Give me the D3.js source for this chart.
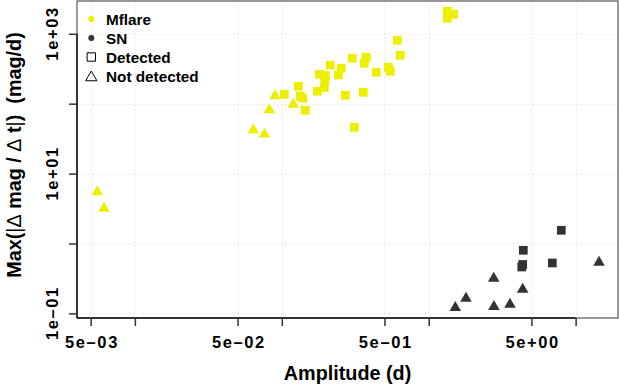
<!DOCTYPE html>
<html><head><meta charset="utf-8">
<script src="https://cdn.jsdelivr.net/npm/d3@7"></script>
<style>
body{margin:0;background:#fff}
svg{display:block}
text{font-family:"Liberation Sans",Arial,Helvetica,sans-serif;font-weight:bold;fill:#000}
</style>
</head><body>
<svg id="chart" width="619" height="392"></svg>
<script>
// ---- data ----
const mflareDetectedAmp  = [0.1040,0.1295,0.1336,0.1388,0.1445,0.1744,0.1806,0.1977,0.1968,0.1947,0.2136,0.2425,0.2537,0.2706,0.3015,0.3114,0.3587,0.3644,0.3760,0.4391,0.5309,0.5477,0.6112,0.6406,1.339,1.339,1.482];
const mflareDetectedRate = [136.3,177.4,128.9,119.4,80.4,151.0,263.4,253.2,211.3,170.5,355.5,257.4,320.9,131.9,446.2,45.96,145.6,378.4,462.6,281.4,332.8,290.7,807.3,492.5,2098,1666,1901];
const mflareNotDetAmp    = [0.00555,0.00616,0.0640,0.0762,0.0822,0.0899,0.1198];
const mflareNotDetRate   = [5.45,3.18,42.0,36.6,81.3,128.9,97.7];
const snDetectedAmp      = [7.99,4.405,4.36,4.30,6.94];
const snDetectedRate     = [1.545,0.799,0.501,0.461,0.526];
const snNotDetAmp        = [14.43,2.77,4.36,1.794,1.517,2.78,3.575];
const snNotDetRate       = [0.537,0.317,0.2205,0.164,0.1207,0.1247,0.1345];

const xTicks = [0.005,0.01,0.05,0.1,0.5,1,5,10];
const xTickLabels = ["5e\u201303","","5e\u201302","","5e\u201301","","5e+00",""];
const yTicks = [0.1,1,10,100,1000];
const yTickLabels = ["1e\u201301","","1e+01","","1e+03"];
const legendLabels = ["Mflare","SN","Detected","Not detected"];
const xTitle = "Amplitude (d)";

const colMflare = "#EEEE00", colSN = "#333333";

// ---- layout ----
const L = 77, R = 618, T = 1, B = 318;
const svg = d3.select("#chart");
const x = d3.scaleLog().domain([0.004036, 19.43]).range([L, R]);
const y = d3.scaleLog().domain([0.0859, 2944]).range([B, T]);

// grid
const grid = svg.append("g").attr("stroke","#d9d9d9").attr("stroke-width",1).attr("stroke-dasharray","1,3");
grid.selectAll(".gx").data(xTicks).join("line")
  .attr("x1",d=>Math.round(x(d))+0.5).attr("x2",d=>Math.round(x(d))+0.5).attr("y1",T).attr("y2",B);
grid.selectAll(".gy").data(yTicks).join("line")
  .attr("y1",d=>Math.round(y(d))+0.5).attr("y2",d=>Math.round(y(d))+0.5).attr("x1",L).attr("x2",R);

// box
svg.append("rect").attr("x",L).attr("y",T).attr("width",R-L).attr("height",B-T)
  .attr("fill","none").attr("stroke","#555").attr("stroke-width",1.2);

// axes
const xAxis = svg.append("g").attr("transform",`translate(0,${B})`)
  .call(d3.axisBottom(x).tickValues(xTicks).tickSize(8).tickSizeOuter(0).tickFormat((d,i)=>xTickLabels[i]));
const yAxis = svg.append("g").attr("transform",`translate(${L},0)`)
  .call(d3.axisLeft(y).tickValues(yTicks).tickSize(8).tickSizeOuter(0).tickFormat((d,i)=>yTickLabels[i]));
[xAxis,yAxis].forEach(a=>{
  a.select(".domain").remove();
  a.selectAll(".tick line").attr("stroke","#333").attr("stroke-width",1.5);
  a.selectAll(".tick text").attr("fill","#000").style("font-size","16.5px").style("letter-spacing","1.6px")
   .style("font-family","'Liberation Sans',Arial,sans-serif").style("font-weight","bold");
});
xAxis.selectAll(".tick text").attr("y",30).attr("dy",null).attr("dx","0.8");
yAxis.selectAll(".tick text").attr("transform","rotate(-90)").attr("x",0.8).attr("y",-19.5).attr("dy",null)
  .attr("text-anchor","middle");
// axis lines (from first to last tick)
svg.append("line").attr("x1",x(xTicks[0])).attr("x2",x(xTicks[xTicks.length-1])).attr("y1",B).attr("y2",B)
  .attr("stroke","#333").attr("stroke-width",2);
svg.append("line").attr("y1",y(yTicks[0])).attr("y2",y(yTicks[yTicks.length-1])).attr("x1",L).attr("x2",L)
  .attr("stroke","#333").attr("stroke-width",2);
svg.append("line").attr("x1",L).attr("x2",x(xTicks[0])).attr("y1",B).attr("y2",B).attr("stroke","#333").attr("stroke-width",2);
svg.append("line").attr("x1",L).attr("x2",L).attr("y1",B).attr("y2",y(yTicks[0])).attr("stroke","#333").attr("stroke-width",2);

// points
const sq = d3.symbol().type(d3.symbolSquare).size(76);
const tri = d3.symbol().type(d3.symbolTriangle).size(58);
function draw(ampArr, rateArr, sym, col){
  svg.append("g").selectAll("path").data(ampArr.map((a,i)=>[a,rateArr[i]])).join("path")
    .attr("d",sym).attr("fill",col)
    .attr("transform",d=>`translate(${x(d[0])},${y(d[1])})`);
}
draw(mflareNotDetAmp, mflareNotDetRate, tri, colMflare);
draw(mflareDetectedAmp, mflareDetectedRate, sq, colMflare);
draw(snNotDetAmp, snNotDetRate, tri, colSN);
draw(snDetectedAmp, snDetectedRate, sq, colSN);

// legend
const lg = svg.append("g");
const lx = 91.3, ly0 = 19, ldy = 19;
lg.append("circle").attr("cx",lx).attr("cy",ly0).attr("r",3).attr("fill",colMflare);
lg.append("circle").attr("cx",lx).attr("cy",ly0+ldy).attr("r",3).attr("fill",colSN);
lg.append("path").attr("d",d3.symbol().type(d3.symbolSquare).size(70)())
  .attr("transform",`translate(${lx},${ly0+2*ldy})`).attr("fill","none").attr("stroke","#000").attr("stroke-width",1);
lg.append("path").attr("d",d3.symbol().type(d3.symbolTriangle).size(55)())
  .attr("transform",`translate(${lx},${ly0+3*ldy+1.5})`).attr("fill","none").attr("stroke","#000").attr("stroke-width",1);
lg.selectAll("text").data(legendLabels).join("text")
  .attr("x",106).attr("y",(d,i)=>ly0+i*ldy+6).style("font-size","15.3px").text(d=>d);

// axis titles
svg.append("text").attr("x",(L+R)/2).attr("y",380).attr("text-anchor","middle")
  .style("font-size","19.8px").text(xTitle);
const yt = svg.append("text").attr("transform","translate(20.7,155) rotate(-90)")
  .attr("text-anchor","middle").style("font-size","19.8px").style("white-space","pre");
[["Max(","bold"],["|","normal"],["\u0394","normal"],[" mag / ","bold"],["\u0394","normal"],[" t","bold"],["|","normal"],[")  (mag/d)","bold"]]
  .forEach(([t,w])=>yt.append("tspan").style("font-weight",w).text(t));
</script>
</body></html>
